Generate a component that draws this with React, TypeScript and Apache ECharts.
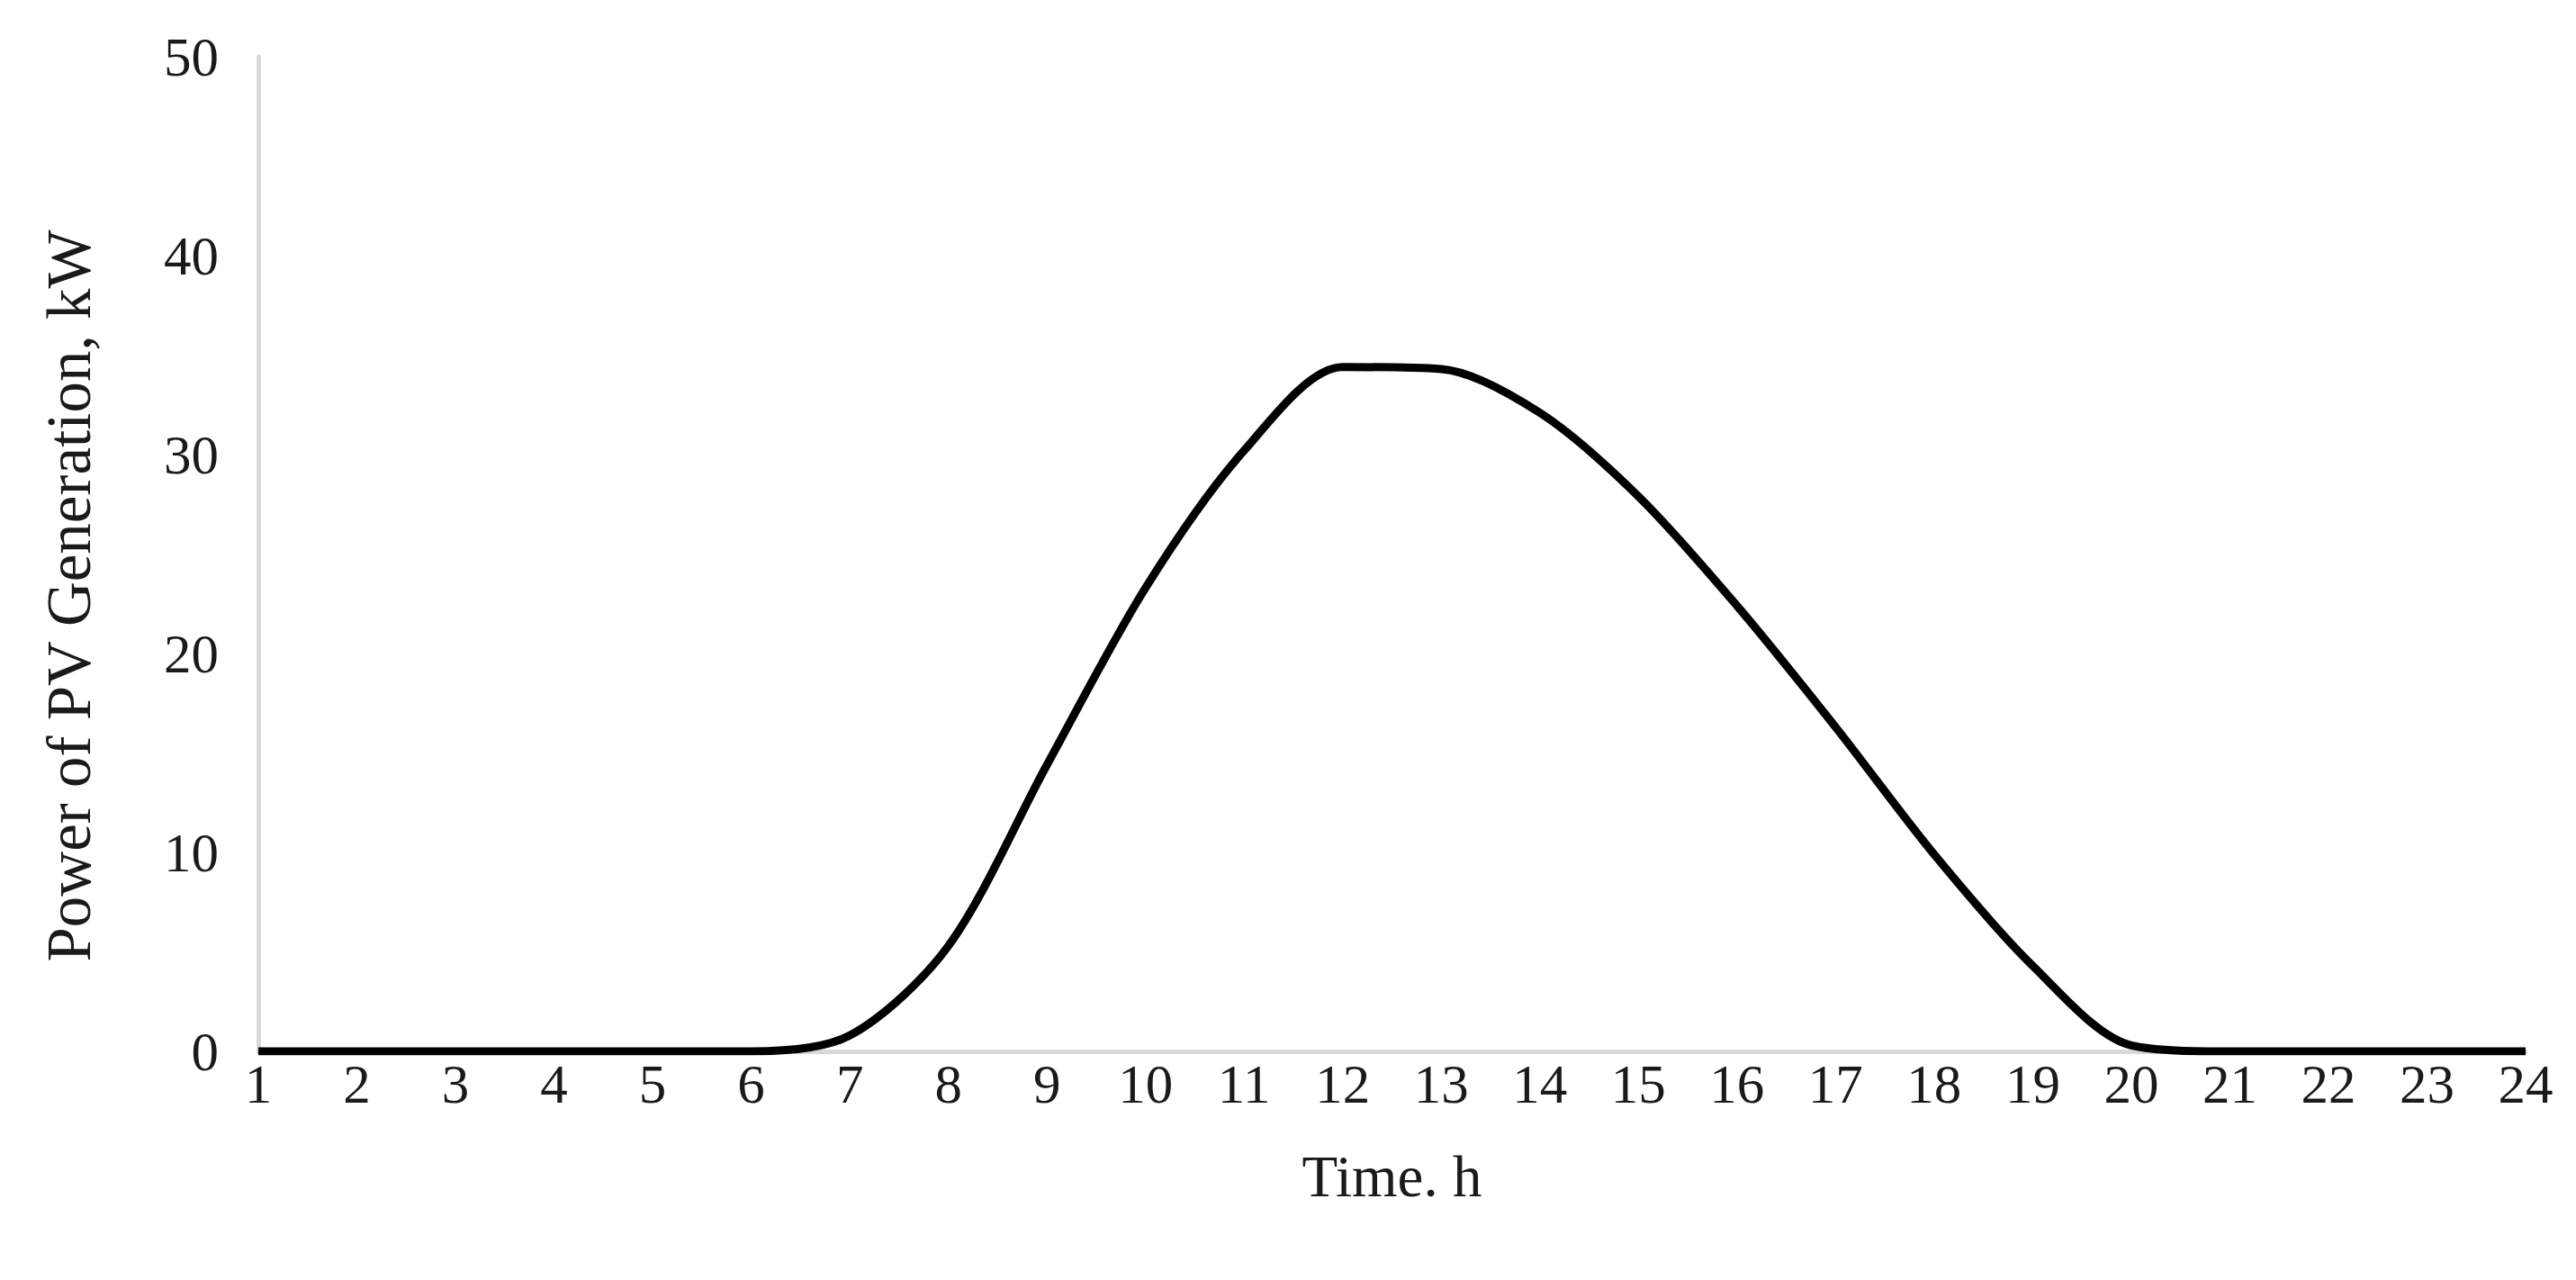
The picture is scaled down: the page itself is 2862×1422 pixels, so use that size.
import React, { useEffect, useRef } from "react";
import * as echarts from "echarts";

const hours: string[] = [
  "1", "2", "3", "4", "5", "6", "7", "8", "9", "10", "11", "12",
  "13", "14", "15", "16", "17", "18", "19", "20", "21", "22", "23", "24",
];
const pvPower: number[] = [
  0, 0, 0, 0, 0, 0, 0.8, 5.3, 14.4, 23.3, 30.2, 34.4,
  34.3, 32.1, 27.9, 22.4, 16.3, 9.9, 4.3, 0.3, 0, 0, 0, 0,
];
const yTicks = { min: 0, max: 50, interval: 10 };
const xTitle = "Time. h";
const yTitle = "Power of PV Generation, kW";

const FONT = "'Liberation Serif', 'Times New Roman', serif";

export default function App() {
  const ref = useRef<HTMLDivElement>(null);
  useEffect(() => {
    document.body.style.margin = "0";
    const chart = echarts.init(ref.current!, undefined, { renderer: "svg" });
    chart.setOption({
      animation: false,
      backgroundColor: "#ffffff",
      grid: { left: 287, right: 56, top: 63, bottom: 254, containLabel: false },
      xAxis: {
        type: "category",
        data: hours,
        boundaryGap: false,
        name: xTitle,
        nameLocation: "middle",
        nameGap: 106,
        nameTextStyle: { fontFamily: FONT, fontSize: 65, color: "#1a1a1a" },
        axisLine: { show: true, lineStyle: { color: "#d9d9d9", width: 5 } },
        axisTick: { show: false },
        axisLabel: { fontFamily: FONT, fontSize: 61, color: "#1a1a1a", margin: 6, interval: 0 },
        splitLine: { show: false },
      },
      yAxis: {
        type: "value",
        min: yTicks.min,
        max: yTicks.max,
        interval: yTicks.interval,
        axisLine: { show: true, lineStyle: { color: "#d9d9d9", width: 5 } },
        axisTick: { show: false },
        axisLabel: { fontFamily: FONT, fontSize: 61, color: "#1a1a1a", margin: 44 },
        splitLine: { show: false },
      },
      graphic: [
        {
          type: "text",
          x: 77,
          y: 662,
          rotation: Math.PI / 2,
          style: {
            text: yTitle,
            font: `69px ${FONT}`,
            fill: "#1a1a1a",
            textAlign: "center",
            textVerticalAlign: "middle",
          },
        },
      ],
      series: [
        {
          type: "line",
          data: pvPower,
          smooth: 0.3,
          symbol: "none",
          lineStyle: { color: "#000000", width: 9 },
        },
      ],
    });
    return () => chart.dispose();
  }, []);
  return <div ref={ref} style={{ width: 2862, height: 1422 }} />;
}
